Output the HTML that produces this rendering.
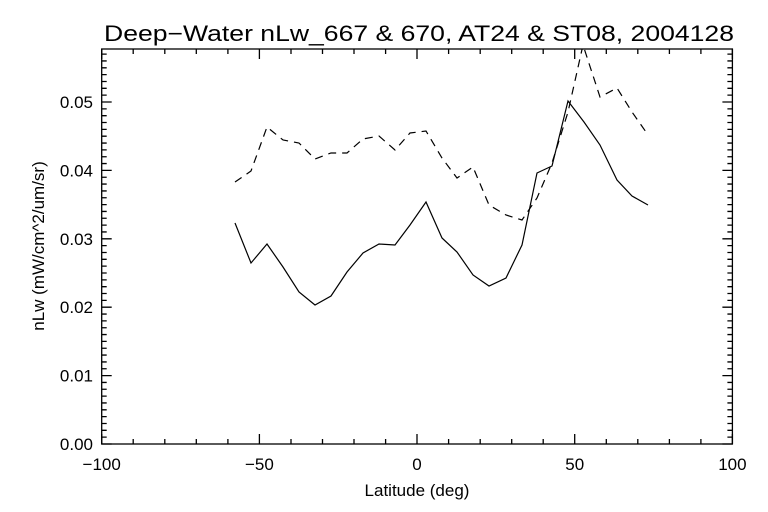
<!DOCTYPE html>
<html><head><meta charset="utf-8"><style>html,body{margin:0;padding:0;background:#fff}svg{display:block}</style></head>
<body>
<svg width="768" height="512" viewBox="0 0 768 512" xmlns="http://www.w3.org/2000/svg" font-family="Liberation Sans, sans-serif" fill="#000">
<rect width="768" height="512" fill="#fff"/>
<text x="104" y="41" font-size="22" textLength="630" lengthAdjust="spacingAndGlyphs">Deep−Water nLw_667 &amp; 670, AT24 &amp; ST08, 2004128</text>
<g stroke="#000" stroke-width="1.3" fill="none">
<rect x="101.7" y="49" width="630.7" height="395"/>
<path d="M101.7,444v-10 M133.2,444v-5 M164.8,444v-5 M196.3,444v-5 M227.9,444v-5 M259.4,444v-10 M291,444v-5 M322.5,444v-5 M354,444v-5 M385.6,444v-5 M417,444v-10 M448.6,444v-5 M480.2,444v-5 M511.7,444v-5 M543.2,444v-5 M574.7,444v-10 M606.3,444v-5 M637.8,444v-5 M669.4,444v-5 M700.9,444v-5 M732.4,444v-10"/>
<path d="M101.7,49v10 M133.2,49v5 M164.8,49v5 M196.3,49v5 M227.9,49v5 M259.4,49v10 M291,49v5 M322.5,49v5 M354,49v5 M385.6,49v5 M417,49v10 M448.6,49v5 M480.2,49v5 M511.7,49v5 M543.2,49v5 M574.7,49v10 M606.3,49v5 M637.8,49v5 M669.4,49v5 M700.9,49v5 M732.4,49v10"/>
<path d="M101.7,444h10M101.7,437.16h5M101.7,430.32h5M101.7,423.48h5M101.7,416.64h5M101.7,409.8h5M101.7,402.96h5M101.7,396.12h5M101.7,389.28h5M101.7,382.44h5M101.7,375.6h10M101.7,368.76h5M101.7,361.92h5M101.7,355.08h5M101.7,348.24h5M101.7,341.4h5M101.7,334.56h5M101.7,327.72h5M101.7,320.88h5M101.7,314.04h5M101.7,307.2h10M101.7,300.36h5M101.7,293.52h5M101.7,286.68h5M101.7,279.84h5M101.7,273h5M101.7,266.16h5M101.7,259.32h5M101.7,252.48h5M101.7,245.64h5M101.7,238.8h10M101.7,231.96h5M101.7,225.12h5M101.7,218.28h5M101.7,211.44h5M101.7,204.6h5M101.7,197.76h5M101.7,190.92h5M101.7,184.08h5M101.7,177.24h5M101.7,170.4h10M101.7,163.56h5M101.7,156.72h5M101.7,149.88h5M101.7,143.04h5M101.7,136.2h5M101.7,129.36h5M101.7,122.52h5M101.7,115.68h5M101.7,108.84h5M101.7,102h10M101.7,95.16h5M101.7,88.32h5M101.7,81.48h5M101.7,74.64h5M101.7,67.8h5M101.7,60.96h5M101.7,54.12h5"/>
<path d="M732.4,444h-10M732.4,437.16h-5M732.4,430.32h-5M732.4,423.48h-5M732.4,416.64h-5M732.4,409.8h-5M732.4,402.96h-5M732.4,396.12h-5M732.4,389.28h-5M732.4,382.44h-5M732.4,375.6h-10M732.4,368.76h-5M732.4,361.92h-5M732.4,355.08h-5M732.4,348.24h-5M732.4,341.4h-5M732.4,334.56h-5M732.4,327.72h-5M732.4,320.88h-5M732.4,314.04h-5M732.4,307.2h-10M732.4,300.36h-5M732.4,293.52h-5M732.4,286.68h-5M732.4,279.84h-5M732.4,273h-5M732.4,266.16h-5M732.4,259.32h-5M732.4,252.48h-5M732.4,245.64h-5M732.4,238.8h-10M732.4,231.96h-5M732.4,225.12h-5M732.4,218.28h-5M732.4,211.44h-5M732.4,204.6h-5M732.4,197.76h-5M732.4,190.92h-5M732.4,184.08h-5M732.4,177.24h-5M732.4,170.4h-10M732.4,163.56h-5M732.4,156.72h-5M732.4,149.88h-5M732.4,143.04h-5M732.4,136.2h-5M732.4,129.36h-5M732.4,122.52h-5M732.4,115.68h-5M732.4,108.84h-5M732.4,102h-10M732.4,95.16h-5M732.4,88.32h-5M732.4,81.48h-5M732.4,74.64h-5M732.4,67.8h-5M732.4,60.96h-5M732.4,54.12h-5"/>
</g>
<g font-size="17" text-anchor="middle">
<text x="101.7" y="470">−100</text><text x="259.4" y="470">−50</text><text x="417" y="470">0</text><text x="574.7" y="470">50</text><text x="732.4" y="470">100</text>
</g>
<g font-size="17" text-anchor="end">
<text x="93" y="450">0.00</text><text x="93" y="381.6">0.01</text><text x="93" y="313.2">0.02</text><text x="93" y="244.8">0.03</text><text x="93" y="176.4">0.04</text><text x="93" y="108">0.05</text>
</g>
<text x="417" y="496" font-size="17" text-anchor="middle">Latitude (deg)</text>
<text transform="translate(44,246) rotate(-90)" font-size="17" text-anchor="middle">nLw (mW/cm^2/um/sr)</text>
<defs><clipPath id="c"><rect x="101.7" y="49" width="630.7" height="395"/></clipPath></defs>
<g clip-path="url(#c)" fill="none" stroke="#000" stroke-width="1.2">
<polyline points="235,223 251,263 267,244 283,267 299,292 315,305 331,296 347,272 363,253 379,244 395,245 410,225 426,202 442,238 457,252 473,275 489,286 506,278 522,245 537,173 552,166 568,101 584,122 600,145 617,180 632,196 648,205"/>
<polyline stroke-dasharray="8,6" points="235,182 251,171 267,127 283,140 299,143 315,159 331,153 347,153 363,139 379,136 395,150 410,133 426,131 442,158 457,178 473,167 489,205 506,215 522,220 537,198 552,163 568,112 583,45 600,97 617,88 632,112 646,132"/>
</g>
</svg>
</body></html>
